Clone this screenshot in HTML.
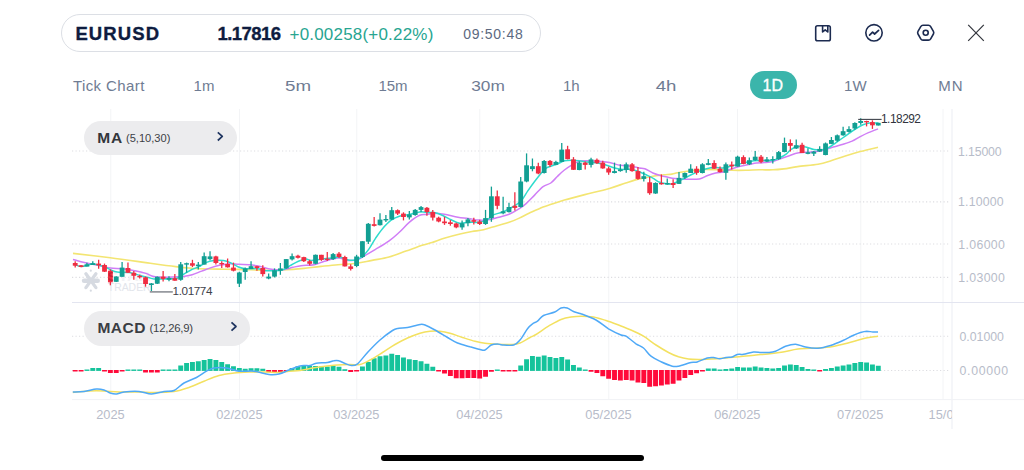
<!DOCTYPE html>
<html><head><meta charset="utf-8"><title>EURUSD</title>
<style>
*{margin:0;padding:0;box-sizing:border-box}
html,body{width:1024px;height:470px;overflow:hidden;background:#fff;font-family:"Liberation Sans",sans-serif}
.abs{position:absolute;white-space:nowrap;line-height:1}
#pill{position:absolute;left:61px;top:14px;width:480px;height:37.5px;border:1px solid #dcdfe5;border-radius:19px;background:#fff}
.tf{position:absolute;top:78.2px;font-size:15px;color:#6f7c93;white-space:nowrap;line-height:1;transform:translateX(-50%)}
#d1{position:absolute;left:750px;top:71px;width:46.5px;height:28px;border-radius:14px;background:#3bb5ab}
.ind{position:absolute;background:#ececee;border-radius:18px}
.yl{position:absolute;left:959.5px;font-size:12.3px;color:#b7bcc9;line-height:1;white-space:nowrap;transform:translateY(-50%)}
.xl{position:absolute;top:409px;font-size:12.8px;color:#b7bcc9;line-height:1;white-space:nowrap;transform:translateX(-50%)}
</style></head><body>
<div id="pill"></div>
<div class="abs" id="sym" style="-webkit-text-stroke:0.35px #0e1c3f;left:75.4px;top:25.2px;font-size:18.5px;font-weight:700;color:#0e1c3f;letter-spacing:1.1px">EURUSD</div>
<div class="abs" id="px" style="-webkit-text-stroke:0.35px #0e1c3f;left:217.4px;top:25.2px;font-size:18.5px;font-weight:700;color:#0e1c3f;letter-spacing:-0.55px">1.17816</div>
<div class="abs" id="chg" style="left:289.5px;top:26px;font-size:17px;color:#27a591;letter-spacing:0.2px">+0.00258(+0.22%)</div>
<div class="abs" id="tm" style="left:463.3px;top:27.3px;font-size:14px;color:#5c6980;letter-spacing:0.7px">09:50:48</div>

<svg class="abs" style="left:0;top:0" width="1024" height="60" viewBox="0 0 1024 60" fill="none" stroke="#1c2b50" stroke-width="1.6" stroke-linecap="round" stroke-linejoin="round">
 <rect x="815.7" y="25.7" width="14.6" height="15.1" rx="1.8"/>
 <path d="M822.6 25.8 V32 L825.2 29.8 L827.8 32 V25.8"/>
 <circle cx="874" cy="32.8" r="8.2"/>
 <path d="M869.6 35.2 L872.6 32.2 L874.6 34 L878.6 30.4" stroke-width="1.7"/>
 <path d="M920.74 26.55 Q921.48 25.25 922.98 25.25 L928.43 25.25 Q929.93 25.25 930.66 26.55 L933.41 31.40 Q934.15 32.70 933.41 34.00 L930.66 38.85 Q929.93 40.15 928.43 40.15 L922.98 40.15 Q921.48 40.15 920.74 38.85 L917.99 34.00 Q917.25 32.70 917.99 31.40 Z"/>
 <circle cx="925.7" cy="32.7" r="2.5"/>
 <path d="M968.2 24.8 L983.8 40.9 M983.8 24.8 L968.2 40.9" stroke="#33363d" stroke-width="1.2" stroke-linecap="butt"/>
</svg>

<div class="tf" style="left:108.9px;letter-spacing:0.42px">Tick Chart</div>
<div class="tf" style="left:204px">1m</div>
<div class="tf" style="left:298px;transform:translateX(-50%) scaleX(1.25)">5m</div>
<div class="tf" style="left:393px">15m</div>
<div class="tf" style="left:487.5px;transform:translateX(-50%) scaleX(1.15)">30m</div>
<div class="tf" style="left:571.3px">1h</div>
<div class="tf" style="left:666px;transform:translateX(-50%) scaleX(1.24)">4h</div>
<div id="d1"></div>
<div class="tf" style="left:772.8px;color:#fff;font-size:16px;top:77.6px;-webkit-text-stroke:0.35px #fff">1D</div>
<div class="tf" style="left:855.3px">1W</div>
<div class="tf" style="left:950.8px;letter-spacing:1px">MN</div>

<svg class="abs" style="left:0;top:0" width="1024" height="470" viewBox="0 0 1024 470">
<line x1="110.75" y1="109" x2="110.75" y2="399.5" stroke="#f3f4f6" stroke-width="1"/>
<line x1="239.5" y1="109" x2="239.5" y2="399.5" stroke="#f3f4f6" stroke-width="1"/>
<line x1="356.75" y1="109" x2="356.75" y2="399.5" stroke="#f3f4f6" stroke-width="1"/>
<line x1="479.75" y1="109" x2="479.75" y2="399.5" stroke="#f3f4f6" stroke-width="1"/>
<line x1="608.75" y1="109" x2="608.75" y2="399.5" stroke="#f3f4f6" stroke-width="1"/>
<line x1="737.5" y1="109" x2="737.5" y2="399.5" stroke="#f3f4f6" stroke-width="1"/>
<line x1="860.8" y1="109" x2="860.8" y2="399.5" stroke="#f3f4f6" stroke-width="1"/>
<line x1="943" y1="109" x2="943" y2="399.5" stroke="#f3f4f6" stroke-width="1"/>
<line x1="952" y1="109" x2="952" y2="429" stroke="#eef0f5" stroke-width="1.2"/>
<line x1="72" y1="151" x2="948.5" y2="151" stroke="#dddde1" stroke-width="1.2" stroke-dasharray="1.2 2.3"/>
<line x1="72" y1="201.9" x2="948.5" y2="201.9" stroke="#dddde1" stroke-width="1.2" stroke-dasharray="1.2 2.3"/>
<line x1="72" y1="244" x2="948.5" y2="244" stroke="#dddde1" stroke-width="1.2" stroke-dasharray="1.2 2.3"/>
<line x1="72" y1="277.3" x2="948.5" y2="277.3" stroke="#dddde1" stroke-width="1.2" stroke-dasharray="1.2 2.3"/>
<line x1="72" y1="336.25" x2="948.5" y2="336.25" stroke="#dddde1" stroke-width="1.2" stroke-dasharray="1.2 2.3"/>
<line x1="72" y1="370.5" x2="948.5" y2="370.5" stroke="#dddde1" stroke-width="1.2" stroke-dasharray="1.2 2.3"/>
<line x1="72" y1="302.5" x2="1024" y2="302.5" stroke="#e3e5f0" stroke-width="1.2"/>
<line x1="72" y1="399.6" x2="1024" y2="399.6" stroke="#f1f2f5" stroke-width="1"/>
<g transform="translate(90.9,280.7)" stroke="#d6dae1" stroke-linecap="round" fill="#d6dae1"><line x1="-6.8" y1="0" x2="6.8" y2="0" stroke-width="4.6"/><line x1="-5" y1="-6.9" x2="5" y2="6.9" stroke-width="3.3"/><line x1="-5" y1="6.9" x2="5" y2="-6.9" stroke-width="3.3"/><circle cx="-0.1" cy="-10" r="1.1" stroke="none"/><circle cx="-0.1" cy="10" r="1.1" stroke="none"/></g>
<text x="107.6" y="281" font-family="Liberation Sans, sans-serif" font-size="12.5" font-weight="700" fill="#f1f2f5" textLength="42.5" lengthAdjust="spacingAndGlyphs">STAR</text>
<text x="107.8" y="291" font-family="Liberation Sans, sans-serif" font-size="10.4" fill="#e2e5eb" textLength="42.8" lengthAdjust="spacing">TRADER</text>
<path d="M73.0 253.4 C79.2 254.1 98.2 256.3 110.3 257.8 C122.4 259.3 134.8 261.1 145.7 262.6 C156.6 264.1 168.0 265.7 175.7 266.6 C183.4 267.6 188.3 268.0 192.0 268.3 C195.7 268.6 193.3 268.6 197.6 268.7 C201.9 268.8 211.2 269.0 218.0 269.1 C224.8 269.2 230.6 269.2 238.5 269.4 C246.4 269.6 258.9 270.2 265.7 270.3 C272.5 270.4 274.8 270.1 279.3 270.0 C283.9 269.9 288.9 269.7 293.0 269.4 C297.1 269.1 299.3 268.9 304.0 268.4 C308.7 267.9 315.3 267.0 321.0 266.4 C326.7 265.8 332.0 265.2 338.0 264.7 C344.0 264.2 351.1 264.0 356.8 263.3 C362.5 262.6 366.6 261.4 372.0 260.4 C377.4 259.3 383.3 258.6 389.0 257.0 C394.7 255.4 400.3 253.1 406.0 251.1 C411.7 249.1 418.7 246.5 423.0 245.1 C427.3 243.7 428.3 243.8 432.0 242.6 C435.7 241.4 440.3 239.4 445.0 238.0 C449.7 236.6 455.5 235.1 460.0 234.0 C464.5 232.9 468.1 232.2 472.0 231.5 C475.9 230.8 479.4 230.7 483.6 229.7 C487.8 228.7 492.9 226.9 497.2 225.7 C501.4 224.5 505.4 223.6 509.1 222.3 C512.8 221.0 515.9 219.7 519.3 218.1 C522.7 216.5 525.5 214.8 529.5 213.0 C533.5 211.2 539.4 208.5 543.1 207.0 C546.9 205.5 548.5 205.3 552.0 204.1 C555.5 202.9 558.9 201.6 564.4 200.0 C569.9 198.4 577.3 196.5 584.8 194.6 C592.3 192.7 602.6 190.3 609.4 188.4 C616.2 186.5 620.7 184.6 625.7 183.0 C630.7 181.4 634.8 180.0 639.3 178.9 C643.8 177.8 648.8 176.9 652.9 176.2 C657.0 175.5 660.6 175.2 663.8 174.8 C667.0 174.5 669.7 174.4 672.0 174.1 C674.3 173.8 674.4 173.4 677.6 172.8 C680.8 172.2 686.7 171.3 691.2 170.7 C695.7 170.1 700.2 169.6 704.8 169.4 C709.3 169.2 714.0 169.7 718.5 169.8 C723.0 170.0 727.6 170.2 732.1 170.3 C736.6 170.4 741.2 170.4 745.7 170.3 C750.2 170.2 754.8 169.9 759.3 169.8 C763.8 169.7 768.8 170.0 772.9 169.8 C777.0 169.7 779.7 169.4 783.8 168.9 C787.9 168.4 791.9 167.4 797.6 166.6 C803.3 165.8 812.3 165.3 818.0 164.3 C823.7 163.3 827.2 161.9 831.7 160.5 C836.2 159.1 840.5 157.6 845.3 156.1 C850.0 154.6 854.8 153.1 860.2 151.6 C865.7 150.1 875.0 148.0 878.0 147.3" fill="none" stroke="#f3e572" stroke-width="1.6" stroke-linejoin="round"/>
<path d="M73.0 259.4 C74.9 259.9 80.2 261.6 84.4 262.6 C88.6 263.6 93.7 264.4 98.0 265.3 C102.3 266.2 106.2 267.4 110.3 268.0 C114.4 268.6 118.4 268.2 122.5 268.7 C126.6 269.1 130.9 269.9 134.8 270.7 C138.7 271.5 142.5 272.4 145.7 273.4 C148.9 274.4 150.7 276.0 153.9 276.6 C157.1 277.2 161.2 277.2 164.8 277.3 C168.4 277.4 172.5 277.0 175.7 276.9 C178.9 276.8 181.2 276.8 184.0 276.4 C186.8 276.0 189.2 275.7 192.2 274.8 C195.1 273.9 198.5 272.3 201.7 271.1 C204.9 269.9 208.2 268.6 211.2 267.6 C214.1 266.6 216.4 265.9 219.4 265.3 C222.4 264.7 225.7 264.1 228.9 263.9 C232.1 263.7 234.6 264.1 238.5 264.3 C242.4 264.5 248.5 264.5 252.1 264.9 C255.7 265.3 257.6 266.0 260.3 266.6 C263.0 267.2 265.7 268.2 268.4 268.7 C271.1 269.2 273.9 269.7 276.6 269.8 C279.3 269.9 282.1 269.8 284.8 269.4 C287.5 269.0 290.3 267.9 293.0 267.3 C295.7 266.7 297.6 266.1 301.1 265.7 C304.6 265.3 310.3 265.4 314.2 264.7 C318.1 264.0 320.4 262.4 324.4 261.3 C328.4 260.2 334.0 258.0 338.0 257.9 C342.0 257.8 345.2 260.1 348.3 260.4 C351.4 260.7 354.0 260.8 356.8 259.9 C359.6 259.0 362.2 257.1 365.3 255.3 C368.4 253.6 371.5 251.8 375.5 249.4 C379.5 247.0 385.1 243.8 389.1 240.9 C393.1 238.1 395.9 235.4 399.3 232.3 C402.7 229.2 406.1 224.9 409.5 222.1 C412.9 219.3 416.8 216.6 419.7 215.3 C422.6 214.0 424.2 214.8 426.6 214.5 C429.0 214.2 431.2 213.3 434.2 213.3 C437.2 213.3 440.4 213.7 444.4 214.3 C448.4 215.0 454.0 216.5 458.0 217.2 C462.0 217.9 464.9 217.9 468.3 218.4 C471.7 218.9 475.1 219.9 478.5 220.1 C481.9 220.3 485.3 220.3 488.7 219.8 C492.1 219.3 495.5 218.1 498.9 217.2 C502.3 216.3 505.7 215.7 509.1 214.3 C512.5 212.9 516.5 210.5 519.3 208.7 C522.1 206.9 523.5 205.9 526.1 203.6 C528.7 201.3 531.8 197.9 534.6 195.1 C537.4 192.3 540.4 188.6 543.1 186.6 C545.8 184.6 548.4 184.7 550.8 183.0 C553.2 181.3 555.3 178.4 557.6 176.2 C559.9 174.0 562.1 171.8 564.4 170.0 C566.7 168.2 568.9 166.7 571.2 165.3 C573.5 164.0 575.7 162.7 578.0 161.9 C580.3 161.2 581.4 160.9 584.8 160.8 C588.2 160.7 594.4 160.9 598.5 161.2 C602.6 161.5 605.8 161.9 609.4 162.6 C613.0 163.3 616.7 164.7 620.3 165.3 C623.9 165.9 627.9 165.8 631.1 166.2 C634.3 166.6 637.0 167.6 639.3 168.0 C641.6 168.4 642.5 167.9 644.8 168.7 C647.1 169.5 650.2 171.8 652.9 173.0 C655.6 174.2 658.6 175.1 661.1 175.8 C663.6 176.5 666.1 176.8 668.0 177.2 C669.9 177.6 670.2 177.9 672.2 178.2 C674.2 178.5 677.6 178.7 680.3 178.9 C683.0 179.1 685.3 179.3 688.5 179.3 C691.7 179.3 696.2 179.5 699.4 178.9 C702.6 178.3 704.9 176.5 707.6 175.5 C710.3 174.5 713.0 173.6 715.7 173.0 C718.4 172.4 721.2 172.4 723.9 171.7 C726.6 171.0 729.4 169.6 732.1 168.7 C734.8 167.8 737.6 166.9 740.3 166.2 C743.0 165.5 745.7 165.1 748.4 164.6 C751.1 164.1 753.9 163.3 756.6 163.0 C759.3 162.7 762.1 162.8 764.8 162.6 C767.5 162.4 770.2 162.3 772.9 161.6 C775.6 160.9 778.2 159.5 781.1 158.5 C784.0 157.5 787.2 156.4 790.0 155.5 C792.8 154.6 794.1 153.6 797.6 153.0 C801.1 152.4 806.9 152.4 811.2 152.0 C815.5 151.6 820.1 151.1 823.5 150.3 C826.9 149.6 828.8 148.4 831.7 147.5 C834.7 146.6 837.8 145.9 841.2 144.8 C844.6 143.7 848.9 142.5 852.1 141.1 C855.3 139.7 857.5 138.0 860.2 136.6 C862.9 135.2 865.4 133.9 868.4 132.6 C871.4 131.3 876.4 129.5 878.0 128.9" fill="none" stroke="#d07ef6" stroke-width="1.5" stroke-linejoin="round"/>
<path d="M73.0 263.9 C74.5 264.3 78.3 266.6 81.7 266.6 C85.1 266.6 89.5 263.8 93.3 263.9 C97.1 264.0 101.8 266.0 104.8 267.0 C107.8 268.0 109.0 269.2 111.0 270.0 C113.0 270.8 114.0 271.6 117.1 272.0 C120.2 272.4 125.5 271.9 129.4 272.5 C133.3 273.1 137.1 274.7 140.3 275.5 C143.5 276.3 146.1 276.9 148.4 277.5 C150.7 278.1 151.2 278.7 153.9 278.9 C156.6 279.1 161.0 279.0 164.8 278.9 C168.7 278.8 173.8 279.0 177.0 278.2 C180.2 277.4 181.6 275.4 183.8 274.1 C186.0 272.8 188.6 271.3 190.0 270.5 C191.4 269.7 190.7 270.0 192.2 269.4 C193.7 268.8 196.7 267.7 199.0 266.6 C201.3 265.5 203.3 263.6 205.8 262.6 C208.3 261.6 211.1 260.9 214.0 260.5 C216.9 260.1 220.8 260.1 223.5 260.5 C226.2 260.9 227.8 261.5 230.3 262.6 C232.8 263.7 236.0 266.0 238.5 267.0 C241.0 268.0 242.1 268.4 245.3 268.7 C248.5 269.0 254.1 268.4 257.5 268.7 C260.9 269.0 263.0 270.4 265.7 270.7 C268.4 271.0 271.2 270.8 273.9 270.7 C276.6 270.6 279.3 270.8 282.0 270.0 C284.7 269.2 287.5 267.2 290.2 265.7 C292.9 264.2 295.8 262.3 298.4 261.2 C301.0 260.1 303.9 259.1 306.0 259.0 C308.1 258.9 308.3 260.4 310.8 260.4 C313.3 260.4 317.6 259.6 321.0 259.2 C324.4 258.8 328.1 258.3 331.2 257.9 C334.3 257.5 336.8 256.7 339.7 257.0 C342.6 257.3 345.7 259.4 348.3 259.9 C350.9 260.4 352.8 260.4 355.1 259.9 C357.4 259.4 359.6 258.8 361.9 257.0 C364.2 255.2 366.4 252.5 368.7 249.4 C371.0 246.3 373.2 241.7 375.5 238.3 C377.8 234.9 379.8 231.9 382.3 228.9 C384.9 225.9 388.0 222.5 390.8 220.4 C393.6 218.3 396.2 217.2 399.3 216.2 C402.4 215.2 406.1 215.2 409.5 214.5 C412.9 213.8 416.6 212.2 419.7 211.9 C422.8 211.6 425.6 212.3 428.0 212.4 C430.4 212.5 431.8 212.1 434.2 212.6 C436.6 213.1 439.9 214.3 442.7 215.5 C445.5 216.7 448.4 218.5 451.2 219.8 C454.0 221.1 456.8 222.8 459.7 223.2 C462.6 223.6 465.2 222.5 468.3 222.3 C471.4 222.2 475.4 222.7 478.5 222.3 C481.6 221.9 484.4 221.1 487.0 219.8 C489.6 218.5 491.2 216.0 493.8 214.7 C496.4 213.4 499.2 213.4 502.3 212.1 C505.4 210.8 509.4 208.8 512.5 207.0 C515.6 205.2 518.5 203.8 521.0 201.1 C523.5 198.4 525.5 194.2 527.8 190.9 C530.1 187.6 532.3 184.5 534.6 181.5 C536.9 178.5 539.4 175.3 541.4 173.0 C543.4 170.7 545.0 169.0 546.6 167.9 C548.2 166.8 549.0 166.9 550.8 166.2 C552.6 165.5 555.3 164.8 557.6 163.9 C559.9 163.0 562.1 161.4 564.4 160.8 C566.7 160.2 568.7 160.2 571.2 160.2 C573.7 160.2 576.7 160.5 579.4 160.8 C582.1 161.1 584.4 161.7 587.6 162.1 C590.8 162.5 595.3 162.7 598.5 163.2 C601.7 163.7 603.9 164.5 606.6 165.3 C609.3 166.1 612.1 167.3 614.8 168.0 C617.5 168.7 620.3 169.2 623.0 169.4 C625.7 169.6 628.4 169.0 631.1 169.4 C633.8 169.8 636.8 170.8 639.3 171.7 C641.8 172.6 643.8 173.7 646.1 174.8 C648.4 175.9 650.6 176.9 652.9 178.2 C655.2 179.4 657.4 181.4 659.7 182.3 C662.0 183.2 664.4 183.4 666.5 183.7 C668.6 184.0 670.4 184.2 672.2 183.9 C674.1 183.6 675.6 182.6 677.6 181.6 C679.6 180.6 682.1 179.3 684.4 178.2 C686.7 177.1 688.7 176.0 691.2 174.8 C693.7 173.6 696.7 172.2 699.4 171.1 C702.1 170.0 704.9 169.0 707.6 168.4 C710.3 167.8 713.2 167.7 715.7 167.6 C718.2 167.5 720.3 168.2 722.6 168.0 C724.9 167.8 726.9 167.2 729.4 166.6 C731.9 166.0 734.8 165.3 737.5 164.6 C740.2 163.9 743.0 163.2 745.7 162.6 C748.4 162.0 751.2 161.2 753.9 160.8 C756.6 160.5 758.8 160.6 762.0 160.5 C765.2 160.4 769.9 160.6 772.9 160.2 C775.9 159.8 777.4 158.9 779.7 157.8 C782.0 156.7 784.6 155.2 786.5 153.8 C788.4 152.4 788.9 150.8 790.8 149.6 C792.6 148.4 795.1 147.0 797.6 146.6 C800.1 146.2 803.1 146.4 805.8 146.9 C808.5 147.4 811.3 149.1 814.0 149.6 C816.7 150.1 819.6 150.2 822.1 149.8 C824.6 149.5 826.6 148.7 828.9 147.5 C831.2 146.3 833.4 144.4 835.7 142.8 C838.0 141.2 840.3 139.6 842.6 138.0 C844.9 136.4 847.1 134.8 849.4 133.2 C851.7 131.6 853.9 129.9 856.2 128.5 C858.5 127.1 860.7 125.7 863.0 124.8 C865.3 123.9 867.3 123.3 869.8 123.0 C872.3 122.7 876.8 123.0 878.2 123.0" fill="none" stroke="#2edccd" stroke-width="1.5" stroke-linejoin="round"/>
<line x1="75.20" y1="261.2" x2="75.20" y2="267.6" stroke="#f02d42" stroke-width="1.3"/>
<rect x="72.80" y="263" width="4.8" height="2.70" fill="#f02d42"/>
<line x1="81.06" y1="265" x2="81.06" y2="267.3" stroke="#f02d42" stroke-width="1.3"/>
<rect x="78.66" y="265.3" width="4.8" height="1.70" fill="#f02d42"/>
<line x1="86.92" y1="262.8" x2="86.92" y2="266.6" stroke="#129f93" stroke-width="1.3"/>
<rect x="84.52" y="264.3" width="4.8" height="2.30" fill="#129f93"/>
<line x1="92.79" y1="261.2" x2="92.79" y2="265" stroke="#129f93" stroke-width="1.3"/>
<rect x="90.39" y="263.2" width="4.8" height="1.80" fill="#129f93"/>
<line x1="98.65" y1="259.8" x2="98.65" y2="268.7" stroke="#f02d42" stroke-width="1.3"/>
<rect x="96.25" y="263.6" width="4.8" height="1.70" fill="#f02d42"/>
<line x1="104.51" y1="263.6" x2="104.51" y2="272" stroke="#f02d42" stroke-width="1.3"/>
<rect x="102.11" y="265" width="4.8" height="6.70" fill="#f02d42"/>
<line x1="110.37" y1="269.4" x2="110.37" y2="285.3" stroke="#f02d42" stroke-width="1.3"/>
<rect x="107.97" y="270.7" width="4.8" height="11.60" fill="#f02d42"/>
<line x1="116.23" y1="276.2" x2="116.23" y2="282" stroke="#129f93" stroke-width="1.3"/>
<rect x="113.83" y="276.5" width="4.8" height="5.30" fill="#129f93"/>
<line x1="122.10" y1="261.9" x2="122.10" y2="276.8" stroke="#129f93" stroke-width="1.3"/>
<rect x="119.70" y="267.6" width="4.8" height="9.20" fill="#129f93"/>
<line x1="127.96" y1="262.5" x2="127.96" y2="272.8" stroke="#f02d42" stroke-width="1.3"/>
<rect x="125.56" y="268" width="4.8" height="4.80" fill="#f02d42"/>
<line x1="133.82" y1="271.1" x2="133.82" y2="279.8" stroke="#f02d42" stroke-width="1.3"/>
<rect x="131.42" y="272.8" width="4.8" height="3.00" fill="#f02d42"/>
<line x1="139.68" y1="274.8" x2="139.68" y2="278.6" stroke="#f02d42" stroke-width="1.3"/>
<rect x="137.28" y="275.9" width="4.8" height="1.40" fill="#f02d42"/>
<line x1="145.54" y1="276.6" x2="145.54" y2="286.7" stroke="#f02d42" stroke-width="1.3"/>
<rect x="143.14" y="277.3" width="4.8" height="6.70" fill="#f02d42"/>
<line x1="151.41" y1="283" x2="151.41" y2="291" stroke="#129f93" stroke-width="1.3"/>
<rect x="149.01" y="283.4" width="4.8" height="1.60" fill="#129f93"/>
<line x1="157.27" y1="276.6" x2="157.27" y2="284" stroke="#129f93" stroke-width="1.3"/>
<rect x="154.87" y="276.8" width="4.8" height="6.90" fill="#129f93"/>
<line x1="163.13" y1="271.1" x2="163.13" y2="281.6" stroke="#f02d42" stroke-width="1.3"/>
<rect x="160.73" y="276.6" width="4.8" height="2.30" fill="#f02d42"/>
<line x1="168.99" y1="276.2" x2="168.99" y2="281.2" stroke="#129f93" stroke-width="1.3"/>
<rect x="166.59" y="278" width="4.8" height="1.80" fill="#129f93"/>
<line x1="174.85" y1="273.9" x2="174.85" y2="280.7" stroke="#f02d42" stroke-width="1.3"/>
<rect x="172.45" y="278.2" width="4.8" height="2.50" fill="#f02d42"/>
<line x1="180.72" y1="262.1" x2="180.72" y2="280.7" stroke="#129f93" stroke-width="1.3"/>
<rect x="178.32" y="264.3" width="4.8" height="15.50" fill="#129f93"/>
<line x1="186.58" y1="262.6" x2="186.58" y2="272.8" stroke="#129f93" stroke-width="1.3"/>
<rect x="184.18" y="263.2" width="4.8" height="1.40" fill="#129f93"/>
<line x1="192.44" y1="259.8" x2="192.44" y2="267" stroke="#f02d42" stroke-width="1.3"/>
<rect x="190.04" y="263.2" width="4.8" height="2.50" fill="#f02d42"/>
<line x1="198.30" y1="261.9" x2="198.30" y2="269.4" stroke="#129f93" stroke-width="1.3"/>
<rect x="195.90" y="264.6" width="4.8" height="1.60" fill="#129f93"/>
<line x1="204.16" y1="252.6" x2="204.16" y2="264.6" stroke="#129f93" stroke-width="1.3"/>
<rect x="201.76" y="256.2" width="4.8" height="8.40" fill="#129f93"/>
<line x1="210.03" y1="251.3" x2="210.03" y2="260.2" stroke="#129f93" stroke-width="1.3"/>
<rect x="207.63" y="256.4" width="4.8" height="2.70" fill="#129f93"/>
<line x1="215.89" y1="255.7" x2="215.89" y2="264.6" stroke="#f02d42" stroke-width="1.3"/>
<rect x="213.49" y="256.4" width="4.8" height="6.60" fill="#f02d42"/>
<line x1="221.75" y1="261.2" x2="221.75" y2="268" stroke="#f02d42" stroke-width="1.3"/>
<rect x="219.35" y="263" width="4.8" height="1.30" fill="#f02d42"/>
<line x1="227.61" y1="258.5" x2="227.61" y2="267.6" stroke="#f02d42" stroke-width="1.3"/>
<rect x="225.21" y="263.9" width="4.8" height="3.40" fill="#f02d42"/>
<line x1="233.47" y1="262.6" x2="233.47" y2="271.4" stroke="#f02d42" stroke-width="1.3"/>
<rect x="231.07" y="267.6" width="4.8" height="3.10" fill="#f02d42"/>
<line x1="239.34" y1="271.7" x2="239.34" y2="287" stroke="#129f93" stroke-width="1.3"/>
<rect x="236.94" y="272.5" width="4.8" height="11.20" fill="#129f93"/>
<line x1="245.20" y1="267.6" x2="245.20" y2="279.8" stroke="#129f93" stroke-width="1.3"/>
<rect x="242.80" y="268.4" width="4.8" height="3.60" fill="#129f93"/>
<line x1="251.06" y1="261.2" x2="251.06" y2="269" stroke="#129f93" stroke-width="1.3"/>
<rect x="248.66" y="266.2" width="4.8" height="2.80" fill="#129f93"/>
<line x1="256.92" y1="265.7" x2="256.92" y2="270.7" stroke="#f02d42" stroke-width="1.3"/>
<rect x="254.52" y="266.2" width="4.8" height="1.80" fill="#f02d42"/>
<line x1="262.78" y1="265.3" x2="262.78" y2="276.6" stroke="#f02d42" stroke-width="1.3"/>
<rect x="260.38" y="268" width="4.8" height="6.10" fill="#f02d42"/>
<line x1="268.65" y1="273.4" x2="268.65" y2="279.3" stroke="#129f93" stroke-width="1.3"/>
<rect x="266.25" y="276.6" width="4.8" height="1.90" fill="#129f93"/>
<line x1="274.51" y1="268.4" x2="274.51" y2="277.5" stroke="#129f93" stroke-width="1.3"/>
<rect x="272.11" y="270.3" width="4.8" height="6.30" fill="#129f93"/>
<line x1="280.37" y1="263" x2="280.37" y2="274.8" stroke="#129f93" stroke-width="1.3"/>
<rect x="277.97" y="268.4" width="4.8" height="2.30" fill="#129f93"/>
<line x1="286.23" y1="258.9" x2="286.23" y2="268.7" stroke="#129f93" stroke-width="1.3"/>
<rect x="283.83" y="259.1" width="4.8" height="9.30" fill="#129f93"/>
<line x1="292.09" y1="253.4" x2="292.09" y2="260.5" stroke="#129f93" stroke-width="1.3"/>
<rect x="289.69" y="256.2" width="4.8" height="3.20" fill="#129f93"/>
<line x1="297.96" y1="254.8" x2="297.96" y2="258.5" stroke="#f02d42" stroke-width="1.3"/>
<rect x="295.56" y="255.7" width="4.8" height="2.10" fill="#f02d42"/>
<line x1="303.82" y1="256.7" x2="303.82" y2="261.9" stroke="#f02d42" stroke-width="1.3"/>
<rect x="301.42" y="257.1" width="4.8" height="4.10" fill="#f02d42"/>
<line x1="309.68" y1="259.7" x2="309.68" y2="265.4" stroke="#f02d42" stroke-width="1.3"/>
<rect x="307.28" y="261.2" width="4.8" height="2.60" fill="#f02d42"/>
<line x1="315.54" y1="254.5" x2="315.54" y2="264.3" stroke="#129f93" stroke-width="1.3"/>
<rect x="313.14" y="254.8" width="4.8" height="9.00" fill="#129f93"/>
<line x1="321.40" y1="254.8" x2="321.40" y2="260.9" stroke="#f02d42" stroke-width="1.3"/>
<rect x="319.00" y="254.8" width="4.8" height="5.10" fill="#f02d42"/>
<line x1="327.27" y1="251.9" x2="327.27" y2="260.9" stroke="#f02d42" stroke-width="1.3"/>
<rect x="324.87" y="258.7" width="4.8" height="1.20" fill="#f02d42"/>
<line x1="333.13" y1="253.1" x2="333.13" y2="259.9" stroke="#129f93" stroke-width="1.3"/>
<rect x="330.73" y="254.1" width="4.8" height="5.10" fill="#129f93"/>
<line x1="338.99" y1="251.9" x2="338.99" y2="257.9" stroke="#f02d42" stroke-width="1.3"/>
<rect x="336.59" y="253.6" width="4.8" height="3.40" fill="#f02d42"/>
<line x1="344.85" y1="255.8" x2="344.85" y2="266.4" stroke="#f02d42" stroke-width="1.3"/>
<rect x="342.45" y="257" width="4.8" height="9.40" fill="#f02d42"/>
<line x1="350.71" y1="264.3" x2="350.71" y2="270.6" stroke="#f02d42" stroke-width="1.3"/>
<rect x="348.31" y="266.4" width="4.8" height="2.50" fill="#f02d42"/>
<line x1="356.58" y1="254.8" x2="356.58" y2="267.2" stroke="#129f93" stroke-width="1.3"/>
<rect x="354.18" y="256.5" width="4.8" height="9.50" fill="#129f93"/>
<line x1="362.44" y1="241.2" x2="362.44" y2="257.9" stroke="#129f93" stroke-width="1.3"/>
<rect x="360.04" y="241.2" width="4.8" height="15.80" fill="#129f93"/>
<line x1="368.30" y1="223" x2="368.30" y2="243.9" stroke="#129f93" stroke-width="1.3"/>
<rect x="365.90" y="223.8" width="4.8" height="17.90" fill="#129f93"/>
<line x1="374.16" y1="217" x2="374.16" y2="226.4" stroke="#f02d42" stroke-width="1.3"/>
<rect x="371.76" y="224.2" width="4.8" height="1.70" fill="#f02d42"/>
<line x1="380.02" y1="213.3" x2="380.02" y2="225.5" stroke="#129f93" stroke-width="1.3"/>
<rect x="377.62" y="219.6" width="4.8" height="5.60" fill="#129f93"/>
<line x1="385.89" y1="215" x2="385.89" y2="222.1" stroke="#129f93" stroke-width="1.3"/>
<rect x="383.49" y="219" width="4.8" height="1.40" fill="#129f93"/>
<line x1="391.75" y1="207.1" x2="391.75" y2="220.1" stroke="#129f93" stroke-width="1.3"/>
<rect x="389.35" y="210.2" width="4.8" height="9.40" fill="#129f93"/>
<line x1="397.61" y1="209.4" x2="397.61" y2="215" stroke="#f02d42" stroke-width="1.3"/>
<rect x="395.21" y="210.2" width="4.8" height="3.40" fill="#f02d42"/>
<line x1="403.47" y1="212.3" x2="403.47" y2="220.4" stroke="#f02d42" stroke-width="1.3"/>
<rect x="401.07" y="213.6" width="4.8" height="3.40" fill="#f02d42"/>
<line x1="409.33" y1="211.1" x2="409.33" y2="219.6" stroke="#129f93" stroke-width="1.3"/>
<rect x="406.93" y="214.5" width="4.8" height="2.90" fill="#129f93"/>
<line x1="415.20" y1="208.9" x2="415.20" y2="215.7" stroke="#129f93" stroke-width="1.3"/>
<rect x="412.80" y="209.9" width="4.8" height="5.10" fill="#129f93"/>
<line x1="421.06" y1="206" x2="421.06" y2="212.3" stroke="#129f93" stroke-width="1.3"/>
<rect x="418.66" y="207.1" width="4.8" height="2.80" fill="#129f93"/>
<line x1="426.92" y1="207.1" x2="426.92" y2="215.8" stroke="#f02d42" stroke-width="1.3"/>
<rect x="424.52" y="207.8" width="4.8" height="4.20" fill="#f02d42"/>
<line x1="432.78" y1="209.9" x2="432.78" y2="220.6" stroke="#f02d42" stroke-width="1.3"/>
<rect x="430.38" y="212" width="4.8" height="5.60" fill="#f02d42"/>
<line x1="438.64" y1="216.7" x2="438.64" y2="222.3" stroke="#f02d42" stroke-width="1.3"/>
<rect x="436.24" y="217.7" width="4.8" height="3.80" fill="#f02d42"/>
<line x1="444.51" y1="216.7" x2="444.51" y2="224.9" stroke="#f02d42" stroke-width="1.3"/>
<rect x="442.11" y="221.5" width="4.8" height="1.70" fill="#f02d42"/>
<line x1="450.37" y1="220.1" x2="450.37" y2="225.7" stroke="#f02d42" stroke-width="1.3"/>
<rect x="447.97" y="222.3" width="4.8" height="1.70" fill="#f02d42"/>
<line x1="456.23" y1="222.8" x2="456.23" y2="228.3" stroke="#f02d42" stroke-width="1.3"/>
<rect x="453.83" y="223.5" width="4.8" height="3.90" fill="#f02d42"/>
<line x1="462.09" y1="220.6" x2="462.09" y2="229.7" stroke="#129f93" stroke-width="1.3"/>
<rect x="459.69" y="223.2" width="4.8" height="4.20" fill="#129f93"/>
<line x1="467.95" y1="218.1" x2="467.95" y2="226.3" stroke="#129f93" stroke-width="1.3"/>
<rect x="465.55" y="219.4" width="4.8" height="3.80" fill="#129f93"/>
<line x1="473.82" y1="217.7" x2="473.82" y2="224.6" stroke="#f02d42" stroke-width="1.3"/>
<rect x="471.42" y="220.1" width="4.8" height="1.70" fill="#f02d42"/>
<line x1="479.68" y1="219.8" x2="479.68" y2="224.9" stroke="#f02d42" stroke-width="1.3"/>
<rect x="477.28" y="221.5" width="4.8" height="2.50" fill="#f02d42"/>
<line x1="485.54" y1="209.9" x2="485.54" y2="224.9" stroke="#129f93" stroke-width="1.3"/>
<rect x="483.14" y="218.1" width="4.8" height="5.90" fill="#129f93"/>
<line x1="491.40" y1="186.6" x2="491.40" y2="221.8" stroke="#129f93" stroke-width="1.3"/>
<rect x="489.00" y="196.3" width="4.8" height="21.80" fill="#129f93"/>
<line x1="497.26" y1="190.5" x2="497.26" y2="209.2" stroke="#f02d42" stroke-width="1.3"/>
<rect x="494.86" y="196.3" width="4.8" height="9.50" fill="#f02d42"/>
<line x1="503.13" y1="196.8" x2="503.13" y2="214.3" stroke="#129f93" stroke-width="1.3"/>
<rect x="500.73" y="211.3" width="4.8" height="2.00" fill="#129f93"/>
<line x1="508.99" y1="202.8" x2="508.99" y2="212.6" stroke="#129f93" stroke-width="1.3"/>
<rect x="506.59" y="207" width="4.8" height="5.10" fill="#129f93"/>
<line x1="514.85" y1="192.2" x2="514.85" y2="210.4" stroke="#f02d42" stroke-width="1.3"/>
<rect x="512.45" y="205.8" width="4.8" height="2.10" fill="#f02d42"/>
<line x1="520.71" y1="176.9" x2="520.71" y2="207.5" stroke="#129f93" stroke-width="1.3"/>
<rect x="518.31" y="181.5" width="4.8" height="25.50" fill="#129f93"/>
<line x1="526.57" y1="153.4" x2="526.57" y2="182.3" stroke="#129f93" stroke-width="1.3"/>
<rect x="524.17" y="165.3" width="4.8" height="16.20" fill="#129f93"/>
<line x1="532.44" y1="158.5" x2="532.44" y2="171.3" stroke="#129f93" stroke-width="1.3"/>
<rect x="530.04" y="166.2" width="4.8" height="2.90" fill="#129f93"/>
<line x1="538.30" y1="162.8" x2="538.30" y2="174.2" stroke="#f02d42" stroke-width="1.3"/>
<rect x="535.90" y="166.2" width="4.8" height="7.30" fill="#f02d42"/>
<line x1="544.16" y1="159.9" x2="544.16" y2="173.5" stroke="#129f93" stroke-width="1.3"/>
<rect x="541.76" y="161" width="4.8" height="12.00" fill="#129f93"/>
<line x1="550.02" y1="159.9" x2="550.02" y2="167" stroke="#f02d42" stroke-width="1.3"/>
<rect x="547.62" y="160.9" width="4.8" height="4.10" fill="#f02d42"/>
<line x1="555.88" y1="160.8" x2="555.88" y2="165.3" stroke="#129f93" stroke-width="1.3"/>
<rect x="553.48" y="161.9" width="4.8" height="3.00" fill="#129f93"/>
<line x1="561.75" y1="143.1" x2="561.75" y2="162.1" stroke="#129f93" stroke-width="1.3"/>
<rect x="559.35" y="149.6" width="4.8" height="12.30" fill="#129f93"/>
<line x1="567.61" y1="145.8" x2="567.61" y2="159.4" stroke="#f02d42" stroke-width="1.3"/>
<rect x="565.21" y="149.3" width="4.8" height="9.80" fill="#f02d42"/>
<line x1="573.47" y1="157.1" x2="573.47" y2="170" stroke="#f02d42" stroke-width="1.3"/>
<rect x="571.07" y="159.4" width="4.8" height="10.40" fill="#f02d42"/>
<line x1="579.33" y1="161.2" x2="579.33" y2="170.3" stroke="#129f93" stroke-width="1.3"/>
<rect x="576.93" y="162.6" width="4.8" height="7.40" fill="#129f93"/>
<line x1="585.19" y1="161.6" x2="585.19" y2="169.4" stroke="#f02d42" stroke-width="1.3"/>
<rect x="582.79" y="162.6" width="4.8" height="2.30" fill="#f02d42"/>
<line x1="591.06" y1="157.8" x2="591.06" y2="167.6" stroke="#129f93" stroke-width="1.3"/>
<rect x="588.66" y="159.4" width="4.8" height="5.50" fill="#129f93"/>
<line x1="596.92" y1="158.5" x2="596.92" y2="163.9" stroke="#f02d42" stroke-width="1.3"/>
<rect x="594.52" y="159.8" width="4.8" height="3.40" fill="#f02d42"/>
<line x1="602.78" y1="160.8" x2="602.78" y2="168.7" stroke="#f02d42" stroke-width="1.3"/>
<rect x="600.38" y="162.6" width="4.8" height="5.80" fill="#f02d42"/>
<line x1="608.64" y1="166.6" x2="608.64" y2="174.8" stroke="#f02d42" stroke-width="1.3"/>
<rect x="606.24" y="168.4" width="4.8" height="4.10" fill="#f02d42"/>
<line x1="614.50" y1="162.6" x2="614.50" y2="173.4" stroke="#129f93" stroke-width="1.3"/>
<rect x="612.10" y="171.1" width="4.8" height="1.90" fill="#129f93"/>
<line x1="620.37" y1="164.3" x2="620.37" y2="171.7" stroke="#129f93" stroke-width="1.3"/>
<rect x="617.97" y="169.4" width="4.8" height="1.70" fill="#129f93"/>
<line x1="626.23" y1="162.6" x2="626.23" y2="172.8" stroke="#129f93" stroke-width="1.3"/>
<rect x="623.83" y="164.3" width="4.8" height="5.70" fill="#129f93"/>
<line x1="632.09" y1="163" x2="632.09" y2="171.7" stroke="#f02d42" stroke-width="1.3"/>
<rect x="629.69" y="164.3" width="4.8" height="6.80" fill="#f02d42"/>
<line x1="637.95" y1="167" x2="637.95" y2="179.8" stroke="#f02d42" stroke-width="1.3"/>
<rect x="635.55" y="171.1" width="4.8" height="7.80" fill="#f02d42"/>
<line x1="643.81" y1="171.7" x2="643.81" y2="181.6" stroke="#129f93" stroke-width="1.3"/>
<rect x="641.41" y="176.2" width="4.8" height="2.70" fill="#129f93"/>
<line x1="649.68" y1="176.8" x2="649.68" y2="194.8" stroke="#f02d42" stroke-width="1.3"/>
<rect x="647.28" y="182.3" width="4.8" height="10.90" fill="#f02d42"/>
<line x1="655.54" y1="182.3" x2="655.54" y2="193.9" stroke="#129f93" stroke-width="1.3"/>
<rect x="653.14" y="183" width="4.8" height="10.50" fill="#129f93"/>
<line x1="661.40" y1="174.4" x2="661.40" y2="184.7" stroke="#f02d42" stroke-width="1.3"/>
<rect x="659.00" y="183" width="4.8" height="1.30" fill="#f02d42"/>
<line x1="667.26" y1="178.5" x2="667.26" y2="184.7" stroke="#129f93" stroke-width="1.3"/>
<rect x="664.86" y="183" width="4.8" height="1.50" fill="#129f93"/>
<line x1="673.12" y1="179.3" x2="673.12" y2="188" stroke="#f02d42" stroke-width="1.3"/>
<rect x="670.72" y="183" width="4.8" height="2.00" fill="#f02d42"/>
<line x1="678.99" y1="172.1" x2="678.99" y2="183.9" stroke="#129f93" stroke-width="1.3"/>
<rect x="676.59" y="177.9" width="4.8" height="6.00" fill="#129f93"/>
<line x1="684.85" y1="172.5" x2="684.85" y2="178.9" stroke="#129f93" stroke-width="1.3"/>
<rect x="682.45" y="173" width="4.8" height="4.50" fill="#129f93"/>
<line x1="690.71" y1="164.3" x2="690.71" y2="173" stroke="#129f93" stroke-width="1.3"/>
<rect x="688.31" y="168.7" width="4.8" height="4.30" fill="#129f93"/>
<line x1="696.57" y1="166.2" x2="696.57" y2="174.8" stroke="#f02d42" stroke-width="1.3"/>
<rect x="694.17" y="168.7" width="4.8" height="4.10" fill="#f02d42"/>
<line x1="702.43" y1="163.2" x2="702.43" y2="173.4" stroke="#129f93" stroke-width="1.3"/>
<rect x="700.03" y="164.3" width="4.8" height="8.70" fill="#129f93"/>
<line x1="708.30" y1="158.9" x2="708.30" y2="165.3" stroke="#129f93" stroke-width="1.3"/>
<rect x="705.90" y="163.2" width="4.8" height="1.70" fill="#129f93"/>
<line x1="714.16" y1="160.2" x2="714.16" y2="169" stroke="#f02d42" stroke-width="1.3"/>
<rect x="711.76" y="163" width="4.8" height="5.70" fill="#f02d42"/>
<line x1="720.02" y1="166.6" x2="720.02" y2="172.5" stroke="#f02d42" stroke-width="1.3"/>
<rect x="717.62" y="168.7" width="4.8" height="3.40" fill="#f02d42"/>
<line x1="725.88" y1="162.6" x2="725.88" y2="179.8" stroke="#129f93" stroke-width="1.3"/>
<rect x="723.48" y="164.3" width="4.8" height="8.50" fill="#129f93"/>
<line x1="731.74" y1="161.6" x2="731.74" y2="169.4" stroke="#f02d42" stroke-width="1.3"/>
<rect x="729.34" y="164.6" width="4.8" height="1.60" fill="#f02d42"/>
<line x1="737.61" y1="155.7" x2="737.61" y2="166.6" stroke="#129f93" stroke-width="1.3"/>
<rect x="735.21" y="156.7" width="4.8" height="9.90" fill="#129f93"/>
<line x1="743.47" y1="155.3" x2="743.47" y2="164.3" stroke="#f02d42" stroke-width="1.3"/>
<rect x="741.07" y="157.1" width="4.8" height="6.80" fill="#f02d42"/>
<line x1="749.33" y1="157.5" x2="749.33" y2="164.9" stroke="#129f93" stroke-width="1.3"/>
<rect x="746.93" y="160.2" width="4.8" height="4.10" fill="#129f93"/>
<line x1="755.19" y1="151" x2="755.19" y2="160.8" stroke="#129f93" stroke-width="1.3"/>
<rect x="752.79" y="156.7" width="4.8" height="3.50" fill="#129f93"/>
<line x1="761.05" y1="155.1" x2="761.05" y2="163.2" stroke="#f02d42" stroke-width="1.3"/>
<rect x="758.65" y="156.7" width="4.8" height="5.20" fill="#f02d42"/>
<line x1="766.92" y1="157.1" x2="766.92" y2="162.1" stroke="#129f93" stroke-width="1.3"/>
<rect x="764.52" y="159.4" width="4.8" height="2.20" fill="#129f93"/>
<line x1="772.78" y1="156.2" x2="772.78" y2="163.5" stroke="#129f93" stroke-width="1.3"/>
<rect x="770.38" y="159.1" width="4.8" height="1.20" fill="#129f93"/>
<line x1="778.64" y1="151" x2="778.64" y2="159.8" stroke="#129f93" stroke-width="1.3"/>
<rect x="776.24" y="152.1" width="4.8" height="7.00" fill="#129f93"/>
<line x1="784.50" y1="137.6" x2="784.50" y2="152.3" stroke="#129f93" stroke-width="1.3"/>
<rect x="782.10" y="143" width="4.8" height="9.00" fill="#129f93"/>
<line x1="790.36" y1="139.4" x2="790.36" y2="151.5" stroke="#f02d42" stroke-width="1.3"/>
<rect x="787.96" y="143" width="4.8" height="2.80" fill="#f02d42"/>
<line x1="796.23" y1="139.4" x2="796.23" y2="148.9" stroke="#129f93" stroke-width="1.3"/>
<rect x="793.83" y="145.2" width="4.8" height="3.30" fill="#129f93"/>
<line x1="802.09" y1="142.8" x2="802.09" y2="153" stroke="#f02d42" stroke-width="1.3"/>
<rect x="799.69" y="144.8" width="4.8" height="8.20" fill="#f02d42"/>
<line x1="807.95" y1="148.2" x2="807.95" y2="154.3" stroke="#129f93" stroke-width="1.3"/>
<rect x="805.55" y="152.3" width="4.8" height="1.60" fill="#129f93"/>
<line x1="813.81" y1="150.9" x2="813.81" y2="156.1" stroke="#129f93" stroke-width="1.3"/>
<rect x="811.41" y="151.6" width="4.8" height="2.10" fill="#129f93"/>
<line x1="819.67" y1="146.2" x2="819.67" y2="152" stroke="#129f93" stroke-width="1.3"/>
<rect x="817.27" y="148.9" width="4.8" height="2.70" fill="#129f93"/>
<line x1="825.54" y1="142.5" x2="825.54" y2="155.3" stroke="#129f93" stroke-width="1.3"/>
<rect x="823.14" y="143.4" width="4.8" height="11.60" fill="#129f93"/>
<line x1="831.40" y1="137" x2="831.40" y2="144.1" stroke="#129f93" stroke-width="1.3"/>
<rect x="829.00" y="140" width="4.8" height="3.90" fill="#129f93"/>
<line x1="837.26" y1="134.6" x2="837.26" y2="141.7" stroke="#129f93" stroke-width="1.3"/>
<rect x="834.86" y="135.3" width="4.8" height="5.40" fill="#129f93"/>
<line x1="843.12" y1="126.7" x2="843.12" y2="135.7" stroke="#129f93" stroke-width="1.3"/>
<rect x="840.72" y="131.2" width="4.8" height="4.10" fill="#129f93"/>
<line x1="848.98" y1="126.2" x2="848.98" y2="132.6" stroke="#129f93" stroke-width="1.3"/>
<rect x="846.58" y="129.1" width="4.8" height="2.80" fill="#129f93"/>
<line x1="854.85" y1="122.3" x2="854.85" y2="129.8" stroke="#129f93" stroke-width="1.3"/>
<rect x="852.45" y="123" width="4.8" height="5.50" fill="#129f93"/>
<line x1="860.71" y1="118.3" x2="860.71" y2="124.8" stroke="#129f93" stroke-width="1.3"/>
<rect x="858.31" y="121" width="4.8" height="2.00" fill="#129f93"/>
<line x1="866.57" y1="120.7" x2="866.57" y2="126.4" stroke="#f02d42" stroke-width="1.3"/>
<rect x="864.17" y="121" width="4.8" height="1.30" fill="#f02d42"/>
<line x1="872.43" y1="120.3" x2="872.43" y2="128.9" stroke="#f02d42" stroke-width="1.3"/>
<rect x="870.03" y="122.1" width="4.8" height="3.20" fill="#f02d42"/>
<line x1="878.29" y1="122.8" x2="878.29" y2="125.5" stroke="#129f93" stroke-width="1.3"/>
<rect x="875.89" y="122.8" width="4.8" height="2.70" fill="#129f93"/>
<clipPath id="c6"><rect x="107.9" y="270.7" width="5" height="11.6"/></clipPath>
<text x="107.4" y="281.2" clip-path="url(#c6)" font-family="Liberation Sans, sans-serif" font-size="13" font-weight="700" fill="#b81f33" fill-opacity="0.75">S</text>
<line x1="149.8" y1="291.9" x2="172.8" y2="291.9" stroke="#85888f" stroke-width="1.5"/>
<line x1="858.2" y1="119.4" x2="881.6" y2="119.4" stroke="#3f434b" stroke-width="1.1"/>
<rect x="72.75" y="370.00" width="4.9" height="1.50" fill="#ff0a3a"/>
<rect x="78.61" y="370.00" width="4.9" height="1.50" fill="#ff0a3a"/>
<rect x="84.47" y="369.50" width="4.9" height="1.40" fill="#15c39b"/>
<rect x="90.34" y="368.00" width="4.9" height="2.90" fill="#15c39b"/>
<rect x="96.20" y="368.00" width="4.9" height="2.90" fill="#15c39b"/>
<rect x="102.06" y="370.00" width="4.9" height="1.50" fill="#ff0a3a"/>
<rect x="107.92" y="370.00" width="4.9" height="3.00" fill="#ff0a3a"/>
<rect x="113.78" y="370.00" width="4.9" height="3.00" fill="#ff0a3a"/>
<rect x="119.65" y="370.00" width="4.9" height="1.50" fill="#ff0a3a"/>
<rect x="125.51" y="369.50" width="4.9" height="1.40" fill="#15c39b"/>
<rect x="131.37" y="369.50" width="4.9" height="1.40" fill="#15c39b"/>
<rect x="137.23" y="369.50" width="4.9" height="1.40" fill="#15c39b"/>
<rect x="143.09" y="370.00" width="4.9" height="2.50" fill="#ff0a3a"/>
<rect x="148.96" y="370.00" width="4.9" height="2.50" fill="#ff0a3a"/>
<rect x="154.82" y="370.00" width="4.9" height="2.50" fill="#ff0a3a"/>
<rect x="160.68" y="369.50" width="4.9" height="1.40" fill="#15c39b"/>
<rect x="166.54" y="369.50" width="4.9" height="1.40" fill="#15c39b"/>
<rect x="172.40" y="369.50" width="4.9" height="1.40" fill="#15c39b"/>
<rect x="178.27" y="365.50" width="4.9" height="5.40" fill="#15c39b"/>
<rect x="184.13" y="363.00" width="4.9" height="7.90" fill="#15c39b"/>
<rect x="189.99" y="362.00" width="4.9" height="8.90" fill="#15c39b"/>
<rect x="195.85" y="361.25" width="4.9" height="9.65" fill="#15c39b"/>
<rect x="201.71" y="360.00" width="4.9" height="10.90" fill="#15c39b"/>
<rect x="207.58" y="359.00" width="4.9" height="11.90" fill="#15c39b"/>
<rect x="213.44" y="360.00" width="4.9" height="10.90" fill="#15c39b"/>
<rect x="219.30" y="362.00" width="4.9" height="8.90" fill="#15c39b"/>
<rect x="225.16" y="364.25" width="4.9" height="6.65" fill="#15c39b"/>
<rect x="231.02" y="366.25" width="4.9" height="4.65" fill="#15c39b"/>
<rect x="236.89" y="368.00" width="4.9" height="2.90" fill="#15c39b"/>
<rect x="242.75" y="368.75" width="4.9" height="2.15" fill="#15c39b"/>
<rect x="248.61" y="368.25" width="4.9" height="2.65" fill="#15c39b"/>
<rect x="254.47" y="368.25" width="4.9" height="2.65" fill="#15c39b"/>
<rect x="260.33" y="368.75" width="4.9" height="2.15" fill="#15c39b"/>
<rect x="266.20" y="370.00" width="4.9" height="2.00" fill="#ff0a3a"/>
<rect x="272.06" y="370.00" width="4.9" height="2.50" fill="#ff0a3a"/>
<rect x="277.92" y="370.00" width="4.9" height="2.50" fill="#ff0a3a"/>
<rect x="283.78" y="370.00" width="4.9" height="2.00" fill="#ff0a3a"/>
<rect x="289.64" y="368.00" width="4.9" height="2.90" fill="#15c39b"/>
<rect x="295.51" y="366.25" width="4.9" height="4.65" fill="#15c39b"/>
<rect x="301.37" y="365.50" width="4.9" height="5.40" fill="#15c39b"/>
<rect x="307.23" y="366.00" width="4.9" height="4.90" fill="#15c39b"/>
<rect x="313.09" y="366.00" width="4.9" height="4.90" fill="#15c39b"/>
<rect x="318.95" y="366.50" width="4.9" height="4.40" fill="#15c39b"/>
<rect x="324.82" y="366.50" width="4.9" height="4.40" fill="#15c39b"/>
<rect x="330.68" y="366.00" width="4.9" height="4.90" fill="#15c39b"/>
<rect x="336.54" y="366.75" width="4.9" height="4.15" fill="#15c39b"/>
<rect x="342.40" y="369.25" width="4.9" height="1.65" fill="#15c39b"/>
<rect x="348.26" y="370.00" width="4.9" height="2.00" fill="#ff0a3a"/>
<rect x="354.13" y="370.00" width="4.9" height="1.50" fill="#ff0a3a"/>
<rect x="359.99" y="366.50" width="4.9" height="4.40" fill="#15c39b"/>
<rect x="365.85" y="362.00" width="4.9" height="8.90" fill="#15c39b"/>
<rect x="371.71" y="358.25" width="4.9" height="12.65" fill="#15c39b"/>
<rect x="377.57" y="356.25" width="4.9" height="14.65" fill="#15c39b"/>
<rect x="383.44" y="355.50" width="4.9" height="15.40" fill="#15c39b"/>
<rect x="389.30" y="353.75" width="4.9" height="17.15" fill="#15c39b"/>
<rect x="395.16" y="355.00" width="4.9" height="15.90" fill="#15c39b"/>
<rect x="401.02" y="357.50" width="4.9" height="13.40" fill="#15c39b"/>
<rect x="406.88" y="359.25" width="4.9" height="11.65" fill="#15c39b"/>
<rect x="412.75" y="360.00" width="4.9" height="10.90" fill="#15c39b"/>
<rect x="418.61" y="361.25" width="4.9" height="9.65" fill="#15c39b"/>
<rect x="424.47" y="363.75" width="4.9" height="7.15" fill="#15c39b"/>
<rect x="430.33" y="366.75" width="4.9" height="4.15" fill="#15c39b"/>
<rect x="436.19" y="370.00" width="4.9" height="1.50" fill="#ff0a3a"/>
<rect x="442.06" y="370.00" width="4.9" height="3.50" fill="#ff0a3a"/>
<rect x="447.92" y="370.00" width="4.9" height="6.00" fill="#ff0a3a"/>
<rect x="453.78" y="370.00" width="4.9" height="8.25" fill="#ff0a3a"/>
<rect x="459.64" y="370.00" width="4.9" height="8.25" fill="#ff0a3a"/>
<rect x="465.50" y="370.00" width="4.9" height="8.00" fill="#ff0a3a"/>
<rect x="471.37" y="370.00" width="4.9" height="8.00" fill="#ff0a3a"/>
<rect x="477.23" y="370.00" width="4.9" height="8.50" fill="#ff0a3a"/>
<rect x="483.09" y="370.00" width="4.9" height="6.75" fill="#ff0a3a"/>
<rect x="488.95" y="370.00" width="4.9" height="1.75" fill="#ff0a3a"/>
<rect x="494.81" y="369.50" width="4.9" height="1.40" fill="#15c39b"/>
<rect x="500.68" y="370.00" width="4.9" height="1.50" fill="#ff0a3a"/>
<rect x="506.54" y="370.00" width="4.9" height="1.50" fill="#ff0a3a"/>
<rect x="512.40" y="370.00" width="4.9" height="1.50" fill="#ff0a3a"/>
<rect x="518.26" y="365.50" width="4.9" height="5.40" fill="#15c39b"/>
<rect x="524.12" y="359.25" width="4.9" height="11.65" fill="#15c39b"/>
<rect x="529.99" y="356.00" width="4.9" height="14.90" fill="#15c39b"/>
<rect x="535.85" y="356.75" width="4.9" height="14.15" fill="#15c39b"/>
<rect x="541.71" y="355.50" width="4.9" height="15.40" fill="#15c39b"/>
<rect x="547.57" y="357.00" width="4.9" height="13.90" fill="#15c39b"/>
<rect x="553.43" y="358.00" width="4.9" height="12.90" fill="#15c39b"/>
<rect x="559.30" y="357.00" width="4.9" height="13.90" fill="#15c39b"/>
<rect x="565.16" y="359.50" width="4.9" height="11.40" fill="#15c39b"/>
<rect x="571.02" y="365.00" width="4.9" height="5.90" fill="#15c39b"/>
<rect x="576.88" y="367.50" width="4.9" height="3.40" fill="#15c39b"/>
<rect x="582.74" y="369.50" width="4.9" height="1.40" fill="#15c39b"/>
<rect x="588.61" y="370.00" width="4.9" height="1.75" fill="#ff0a3a"/>
<rect x="594.47" y="370.00" width="4.9" height="3.00" fill="#ff0a3a"/>
<rect x="600.33" y="370.00" width="4.9" height="6.25" fill="#ff0a3a"/>
<rect x="606.19" y="370.00" width="4.9" height="8.75" fill="#ff0a3a"/>
<rect x="612.05" y="370.00" width="4.9" height="10.00" fill="#ff0a3a"/>
<rect x="617.92" y="370.00" width="4.9" height="10.50" fill="#ff0a3a"/>
<rect x="623.78" y="370.00" width="4.9" height="10.00" fill="#ff0a3a"/>
<rect x="629.64" y="370.00" width="4.9" height="10.50" fill="#ff0a3a"/>
<rect x="635.50" y="370.00" width="4.9" height="12.50" fill="#ff0a3a"/>
<rect x="641.36" y="370.00" width="4.9" height="13.00" fill="#ff0a3a"/>
<rect x="647.23" y="370.00" width="4.9" height="16.75" fill="#ff0a3a"/>
<rect x="653.09" y="370.00" width="4.9" height="16.25" fill="#ff0a3a"/>
<rect x="658.95" y="370.00" width="4.9" height="15.50" fill="#ff0a3a"/>
<rect x="664.81" y="370.00" width="4.9" height="14.50" fill="#ff0a3a"/>
<rect x="670.67" y="370.00" width="4.9" height="13.75" fill="#ff0a3a"/>
<rect x="676.54" y="370.00" width="4.9" height="10.50" fill="#ff0a3a"/>
<rect x="682.40" y="370.00" width="4.9" height="8.00" fill="#ff0a3a"/>
<rect x="688.26" y="370.00" width="4.9" height="5.00" fill="#ff0a3a"/>
<rect x="694.12" y="370.00" width="4.9" height="3.25" fill="#ff0a3a"/>
<rect x="699.98" y="370.00" width="4.9" height="1.50" fill="#ff0a3a"/>
<rect x="705.85" y="368.50" width="4.9" height="2.40" fill="#15c39b"/>
<rect x="711.71" y="368.50" width="4.9" height="2.40" fill="#15c39b"/>
<rect x="717.57" y="369.50" width="4.9" height="1.40" fill="#15c39b"/>
<rect x="723.43" y="369.00" width="4.9" height="1.90" fill="#15c39b"/>
<rect x="729.29" y="368.50" width="4.9" height="2.40" fill="#15c39b"/>
<rect x="735.16" y="367.00" width="4.9" height="3.90" fill="#15c39b"/>
<rect x="741.02" y="367.50" width="4.9" height="3.40" fill="#15c39b"/>
<rect x="746.88" y="367.50" width="4.9" height="3.40" fill="#15c39b"/>
<rect x="752.74" y="366.50" width="4.9" height="4.40" fill="#15c39b"/>
<rect x="758.60" y="367.50" width="4.9" height="3.40" fill="#15c39b"/>
<rect x="764.47" y="368.00" width="4.9" height="2.90" fill="#15c39b"/>
<rect x="770.33" y="368.50" width="4.9" height="2.40" fill="#15c39b"/>
<rect x="776.19" y="368.00" width="4.9" height="2.90" fill="#15c39b"/>
<rect x="782.05" y="365.50" width="4.9" height="5.40" fill="#15c39b"/>
<rect x="787.91" y="364.50" width="4.9" height="6.40" fill="#15c39b"/>
<rect x="793.78" y="365.00" width="4.9" height="5.90" fill="#15c39b"/>
<rect x="799.64" y="367.00" width="4.9" height="3.90" fill="#15c39b"/>
<rect x="805.50" y="369.00" width="4.9" height="1.90" fill="#15c39b"/>
<rect x="811.36" y="369.50" width="4.9" height="1.40" fill="#15c39b"/>
<rect x="817.22" y="370.00" width="4.9" height="1.50" fill="#ff0a3a"/>
<rect x="823.09" y="369.00" width="4.9" height="1.90" fill="#15c39b"/>
<rect x="828.95" y="368.00" width="4.9" height="2.90" fill="#15c39b"/>
<rect x="834.81" y="366.50" width="4.9" height="4.40" fill="#15c39b"/>
<rect x="840.67" y="365.50" width="4.9" height="5.40" fill="#15c39b"/>
<rect x="846.53" y="364.50" width="4.9" height="6.40" fill="#15c39b"/>
<rect x="852.40" y="363.00" width="4.9" height="7.90" fill="#15c39b"/>
<rect x="858.26" y="362.00" width="4.9" height="8.90" fill="#15c39b"/>
<rect x="864.12" y="362.50" width="4.9" height="8.40" fill="#15c39b"/>
<rect x="869.98" y="364.50" width="4.9" height="6.40" fill="#15c39b"/>
<rect x="875.84" y="365.75" width="4.9" height="5.15" fill="#15c39b"/>
<path d="M72.8 392.5 C75.5 392.2 83.8 391.2 89.0 391.0 C94.2 390.8 99.0 390.8 104.0 391.0 C109.0 391.2 113.2 391.8 119.0 392.0 C124.8 392.2 133.2 391.9 139.0 392.0 C144.8 392.1 148.2 392.6 154.0 392.5 C159.8 392.4 168.2 392.3 174.0 391.5 C179.8 390.7 184.0 389.2 189.0 387.5 C194.0 385.8 199.0 383.2 204.0 381.2 C209.0 379.2 214.0 376.9 219.0 375.5 C224.0 374.1 229.0 373.6 234.0 373.0 C239.0 372.4 244.0 372.2 249.0 372.0 C254.0 371.8 259.0 371.9 264.0 372.0 C269.0 372.1 274.8 372.6 279.0 372.5 C283.2 372.4 285.5 371.6 289.0 371.2 C292.5 370.9 296.1 371.0 300.0 370.5 C303.9 370.0 308.3 368.7 312.5 368.0 C316.7 367.3 320.8 366.8 325.0 366.2 C329.2 365.8 333.3 365.3 337.5 365.0 C341.7 364.7 346.2 364.6 350.0 364.5 C353.8 364.4 356.7 365.2 360.0 364.5 C363.3 363.8 366.2 362.0 370.0 360.0 C373.8 358.0 378.3 355.1 382.5 352.5 C386.7 349.9 390.8 346.9 395.0 344.5 C399.2 342.1 403.3 339.9 407.5 338.0 C411.7 336.1 416.2 334.4 420.0 333.2 C423.8 332.1 426.7 331.6 430.0 331.2 C433.3 330.9 436.7 330.9 440.0 331.2 C443.3 331.6 446.2 332.2 450.0 333.2 C453.8 334.3 458.3 336.2 462.5 337.5 C466.7 338.8 471.2 340.3 475.0 341.2 C478.8 342.2 481.2 342.8 485.0 343.2 C488.8 343.8 492.9 344.0 497.5 344.2 C502.1 344.5 508.8 344.7 512.5 344.5 C516.2 344.3 517.1 344.2 520.0 343.0 C522.9 341.8 527.3 338.9 530.0 337.5 C532.7 336.1 532.9 336.4 536.0 334.5 C539.1 332.6 544.3 328.8 548.5 326.2 C552.7 323.8 557.2 321.0 561.0 319.5 C564.8 318.0 567.7 317.5 571.0 317.0 C574.3 316.5 577.2 316.2 581.0 316.2 C584.8 316.2 589.3 316.3 593.5 317.0 C597.7 317.7 601.8 319.2 606.0 320.5 C610.2 321.8 614.3 323.4 618.5 325.0 C622.7 326.6 626.8 328.1 631.0 330.0 C635.2 331.9 639.3 333.8 643.5 336.2 C647.7 338.8 651.8 342.3 656.0 345.0 C660.2 347.7 664.8 350.5 668.5 352.5 C672.2 354.5 675.2 355.7 678.5 356.8 C681.8 357.8 685.2 358.5 688.5 359.0 C691.8 359.5 694.8 359.5 698.5 359.5 C702.2 359.5 706.4 359.2 711.0 359.0 C715.6 358.8 721.0 358.4 726.0 358.0 C731.0 357.6 736.0 357.0 741.0 356.5 C746.0 356.0 751.5 355.4 756.0 355.0 C760.5 354.6 763.5 354.5 768.0 354.0 C772.5 353.5 778.0 352.8 783.0 352.0 C788.0 351.2 792.2 349.7 798.0 349.0 C803.8 348.3 812.2 348.4 818.0 348.0 C823.8 347.6 828.0 347.3 833.0 346.5 C838.0 345.7 843.0 344.3 848.0 343.0 C853.0 341.7 858.0 339.9 863.0 338.8 C868.0 337.6 875.5 336.7 878.0 336.2" fill="none" stroke="#f3e160" stroke-width="1.5" stroke-linejoin="round"/>
<path d="M72.8 392.0 C74.6 391.9 80.0 392.0 84.0 391.5 C88.0 391.0 93.2 389.2 96.5 389.0 C99.8 388.8 101.7 389.3 104.0 390.0 C106.3 390.7 108.2 392.3 110.2 393.0 C112.3 393.7 114.2 394.2 116.5 394.0 C118.8 393.8 120.2 392.4 124.0 392.0 C127.8 391.6 134.4 391.2 139.0 391.5 C143.6 391.8 147.3 394.0 151.5 394.0 C155.7 394.0 160.2 392.1 164.0 391.5 C167.8 390.9 170.7 391.9 174.0 390.5 C177.3 389.1 180.2 385.2 184.0 383.0 C187.8 380.8 192.8 379.5 196.5 377.5 C200.2 375.5 203.6 372.8 206.5 371.2 C209.4 369.7 210.7 368.5 214.0 368.0 C217.3 367.5 222.3 367.5 226.5 368.0 C230.7 368.5 234.4 370.7 239.0 371.2 C243.6 371.8 249.0 370.7 254.0 371.2 C259.0 371.8 264.8 374.0 269.0 374.5 C273.2 375.0 275.7 374.8 279.0 374.0 C282.3 373.2 285.7 371.3 289.0 370.0 C292.3 368.7 296.3 367.0 299.0 366.2 C301.7 365.5 303.2 365.6 305.0 365.5 C306.8 365.4 308.1 365.9 310.0 365.5 C311.9 365.1 313.3 363.8 316.2 363.2 C319.2 362.8 324.6 362.9 327.5 362.5 C330.4 362.1 331.9 361.0 333.8 360.8 C335.6 360.5 336.9 360.3 338.8 360.8 C340.6 361.2 342.9 362.7 345.0 363.5 C347.1 364.3 349.2 365.5 351.2 365.5 C353.3 365.5 354.8 365.9 357.5 363.8 C360.2 361.6 363.8 356.5 367.5 352.5 C371.2 348.5 375.8 343.7 380.0 340.0 C384.2 336.3 389.4 332.5 392.5 330.5 C395.6 328.5 396.2 328.8 398.8 328.2 C401.2 327.8 404.0 328.1 407.5 327.5 C411.0 326.9 417.1 324.9 420.0 324.5 C422.9 324.1 422.5 324.1 425.0 325.0 C427.5 325.9 431.2 327.9 435.0 330.0 C438.8 332.1 443.8 335.3 447.5 337.5 C451.2 339.7 453.8 341.5 457.5 343.0 C461.2 344.5 466.2 345.7 470.0 346.8 C473.8 347.8 477.5 349.0 480.0 349.5 C482.5 350.0 483.1 350.8 485.0 350.0 C486.9 349.2 489.2 346.0 491.2 345.0 C493.3 344.0 495.6 344.0 497.5 344.0 C499.4 344.0 499.8 344.8 502.5 345.0 C505.2 345.2 510.8 345.8 513.8 345.0 C516.7 344.2 517.7 342.7 520.0 340.0 C522.3 337.3 525.4 331.5 527.5 328.8 C529.6 326.0 530.8 325.0 532.5 323.8 C534.2 322.5 535.7 322.6 537.5 321.2 C539.3 319.9 540.6 317.0 543.5 315.5 C546.4 314.0 551.8 313.2 554.8 312.0 C557.7 310.8 558.9 308.7 561.0 308.0 C563.1 307.3 565.2 307.4 567.2 308.0 C569.3 308.6 571.2 310.5 573.5 311.5 C575.8 312.5 577.2 312.3 581.0 313.8 C584.8 315.2 591.4 317.5 596.0 320.0 C600.6 322.5 604.3 326.2 608.5 328.8 C612.7 331.2 618.1 333.8 621.0 335.0 C623.9 336.2 623.5 334.8 626.0 336.2 C628.5 337.7 633.1 341.8 636.0 343.8 C638.9 345.7 641.0 345.9 643.5 348.0 C646.0 350.1 648.1 354.0 651.0 356.2 C653.9 358.5 657.5 360.1 661.0 361.8 C664.5 363.4 669.3 365.5 672.2 366.2 C675.2 367.0 675.4 366.9 678.5 366.2 C681.6 365.6 687.9 363.2 691.0 362.5 C694.1 361.8 694.5 362.8 697.2 362.0 C700.0 361.2 704.5 358.8 707.2 358.0 C710.0 357.2 711.4 357.4 713.5 357.5 C715.6 357.6 717.7 358.8 719.8 358.8 C721.8 358.8 723.9 357.8 726.0 357.5 C728.1 357.2 730.4 357.5 732.2 357.0 C734.1 356.5 735.4 355.0 737.2 354.5 C739.1 354.0 740.8 354.7 743.5 354.2 C746.2 353.8 750.6 352.3 753.5 352.0 C756.4 351.7 758.6 352.4 761.0 352.5 C763.4 352.6 765.6 352.7 768.0 352.5 C770.4 352.3 772.6 352.3 775.5 351.2 C778.4 350.2 782.2 347.4 785.5 346.2 C788.8 345.1 792.2 344.1 795.5 344.2 C798.8 344.4 801.8 346.3 805.5 347.0 C809.2 347.7 813.8 348.5 818.0 348.2 C822.2 348.0 826.3 346.8 830.5 345.5 C834.7 344.2 839.2 342.2 843.0 340.5 C846.8 338.8 850.1 336.8 853.0 335.5 C855.9 334.2 858.2 333.2 860.5 332.5 C862.8 331.8 864.7 331.3 866.8 331.2 C868.8 331.2 871.1 331.9 873.0 332.0 C874.9 332.1 877.2 332.0 878.0 332.0" fill="none" stroke="#4fa9f7" stroke-width="1.5" stroke-linejoin="round"/>
</svg>

<div class="abs" style="left:172.6px;top:285.2px;font-size:11.7px;letter-spacing:-0.4px;color:#3d424b" id="lo">1.01774</div>
<div class="abs" style="left:881px;top:114px;font-size:11.9px;letter-spacing:-0.5px;color:#2f343d" id="hi">1.18292</div>

<div class="ind" style="left:84px;top:120.5px;width:152.5px;height:34.5px"></div>
<div class="abs" id="ma" style="left:97.3px;top:130px;font-size:15.5px;font-weight:700;color:#33363c;letter-spacing:0.8px">MA</div>
<div class="abs" id="map" style="left:126px;top:133.2px;font-size:11.1px;color:#3c3f46">(5,10,30)</div>
<div class="ind" style="left:84px;top:310.5px;width:165.5px;height:35px"></div>
<div class="abs" id="macd" style="left:97.5px;top:320px;font-size:15.5px;font-weight:700;color:#3a3d43;letter-spacing:0.45px">MACD</div>
<div class="abs" id="macdp" style="left:149.5px;top:323.4px;font-size:11.3px;letter-spacing:-0.2px;color:#3c3f46">(12,26,9)</div>
<svg class="abs" style="left:0;top:0" width="300" height="360" viewBox="0 0 300 360" fill="none" stroke="#1f3560" stroke-width="1.7" stroke-linecap="butt" stroke-linejoin="round">
 <path d="M217.8 132.3 L222.3 136.4 L217.8 140.5"/>
 <path d="M231.5 322.4 L236 326.5 L231.5 330.6"/>
</svg>

<div class="yl" style="top:151.7px;left:958px;letter-spacing:-0.13px">1.15000</div>
<div class="yl" style="top:202.4px;left:958px;letter-spacing:0.2px">1.10000</div>
<div class="yl" style="top:244.7px;left:958.2px;letter-spacing:0.38px">1.06000</div>
<div class="yl" style="top:278px;left:958.2px;letter-spacing:0.38px">1.03000</div>
<div class="yl" style="top:336.9px">0.01000</div>
<div class="yl" style="top:370.9px;letter-spacing:0.7px">0.00000</div>

<div class="xl" style="left:110.4px">2025</div>
<div class="xl" style="left:239.4px">02/2025</div>
<div class="xl" style="left:356.3px">03/2025</div>
<div class="xl" style="left:479.5px">04/2025</div>
<div class="xl" style="left:608.5px">05/2025</div>
<div class="xl" style="left:737.3px">06/2025</div>
<div class="xl" style="left:860.2px">07/2025</div>
<div class="abs" style="left:928.6px;top:409px;width:23px;overflow:hidden;font-size:12.8px;color:#b7bcc9">15/07</div>

<div class="abs" style="left:380.5px;top:454.5px;width:263.5px;height:6px;border-radius:3px;background:#000"></div>
</body></html>
